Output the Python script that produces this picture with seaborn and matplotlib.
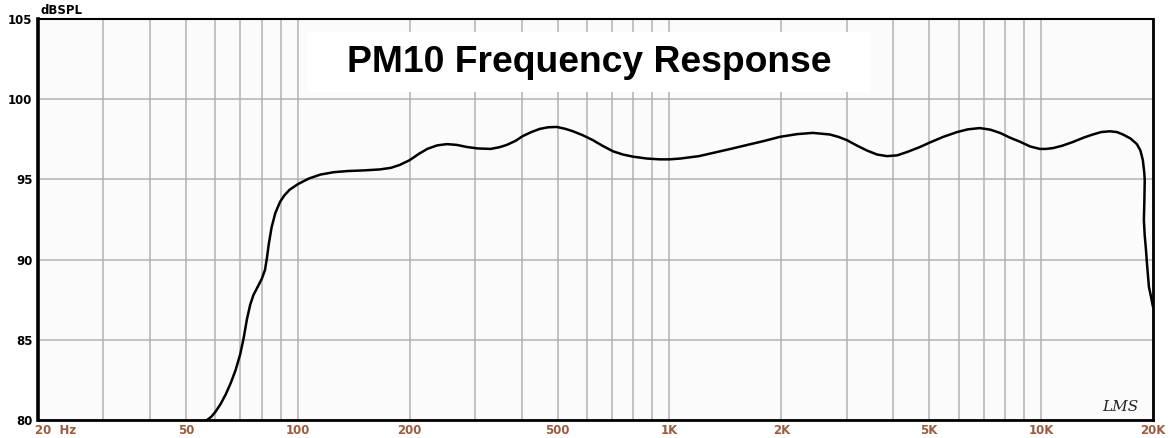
import matplotlib
matplotlib.use("Agg")
import matplotlib.pyplot as plt
from matplotlib.patches import Rectangle
import numpy as np
import pandas as pd
import seaborn as sns

# frequency response (Hz, dB SPL)
freq_hz = [57, 58.5, 60, 62, 64, 66, 68, 70, 71.5, 73, 74.5, 76, 78, 80, 81.6,
           82.6, 83.6, 85, 87, 89.6, 92, 95, 100, 107, 115, 125, 136, 150, 166,
           178, 188, 200, 212, 223, 237, 252, 268, 285, 305, 330, 348, 365, 385,
           403, 425, 448, 472, 498, 525, 550, 585, 622, 660, 705, 750, 797, 870,
           943, 1000, 1070, 1200, 1310, 1460, 1620, 1800, 1980, 2200, 2430,
           2700, 2850, 3000, 3200, 3400, 3620, 3850, 4100, 4350, 4700, 5020,
           5450, 5940, 6350, 6840, 7300, 7750, 8250, 8770, 9350, 9930, 10300,
           10760, 11400, 12170, 13000, 13780, 14500, 15310, 16000, 16600, 17400,
           18100, 18500, 18780, 18950, 19000, 18960, 18900, 19000, 19150, 19260,
           19500, 19750, 20000]
spl_db = [80.0, 80.2, 80.5, 81.0, 81.6, 82.3, 83.1, 84.1, 85.1, 86.3, 87.2,
          87.8, 88.3, 88.8, 89.35, 90.1, 91.0, 92.0, 92.9, 93.6, 94.0, 94.35,
          94.7, 95.05, 95.3, 95.45, 95.52, 95.56, 95.62, 95.72, 95.9, 96.2,
          96.6, 96.9, 97.12, 97.2, 97.15, 97.02, 96.93, 96.9, 97.0, 97.15, 97.4,
          97.7, 97.95, 98.15, 98.25, 98.27, 98.15, 98.0, 97.75, 97.45, 97.1,
          96.75, 96.55, 96.42, 96.3, 96.25, 96.25, 96.3, 96.45, 96.65, 96.9,
          97.15, 97.4, 97.65, 97.82, 97.9, 97.8, 97.65, 97.45, 97.1, 96.8,
          96.55, 96.45, 96.5, 96.7, 97.0, 97.3, 97.65, 97.95, 98.12, 98.2, 98.1,
          97.9, 97.6, 97.35, 97.05, 96.9, 96.9, 96.95, 97.1, 97.33, 97.6, 97.8,
          97.95, 98.0, 97.95, 97.8, 97.55, 97.2, 96.8, 96.2, 95.4, 94.96, 93.7,
          92.47, 91.5, 90.6, 89.8, 88.3, 87.7, 87.05]

x_ticks = [20, 50, 100, 200, 500, 1000, 2000, 5000, 10000, 20000]
x_labels = ["", "50", "100", "200", "500", "1K", "2K", "5K", "10K", "20K"]
y_ticks = [80, 85, 90, 95, 100, 105]
grid_freqs = [20, 30, 40, 50, 60, 70, 80, 90, 100, 200, 300, 400, 500, 600, 700,
              800, 900, 1000, 2000, 3000, 4000, 5000, 6000, 7000, 8000, 9000,
              10000, 20000]

df = pd.DataFrame({"freq": freq_hz, "spl": spl_db})

sns.set_style("white")
plt.rcParams["font.family"] = ["DejaVu Sans"]
plt.rcParams["text.color"] = "black"

fig = plt.figure(figsize=(11.7, 4.38), dpi=100)
ax = fig.add_axes([38 / 1170, 18 / 438, 1115 / 1170, 401 / 438])
ax.set_facecolor("#fbfbfb")

sns.lineplot(data=df, x="freq", y="spl", sort=False, estimator=None,
             color="black", linewidth=1.8, ax=ax, zorder=3)

ax.set_xscale("log")
ax.set_xlim(20, 20000)
ax.set_ylim(80, 105)
ax.set_xticks(grid_freqs, minor=True)
ax.set_xticks(x_ticks)
ax.set_xticklabels(x_labels)
ax.set_xticklabels([], minor=True)
ax.set_yticks(y_ticks)
ax.set_yticklabels([str(v) for v in y_ticks])
ax.set_xlabel("")
ax.set_ylabel("")
ax.set_axisbelow(True)
ax.grid(which="both", axis="x", color="#b2b2b2", linewidth=1.1)
ax.grid(which="major", axis="y", color="#b2b2b2", linewidth=1.1)
ax.tick_params(which="both", length=0)
ax.tick_params(axis="x", pad=3, labelsize=8.5, labelcolor="#9b5b3e")
ax.tick_params(axis="y", pad=4, labelsize=8.5, labelcolor="black")
for lab in ax.get_xticklabels() + ax.get_yticklabels():
    lab.set_fontweight("bold")

for side, lw in [("left", 2.6), ("bottom", 2.0), ("right", 2.0), ("top", 1.5)]:
    ax.spines[side].set_visible(True)
    ax.spines[side].set_color("black")
    ax.spines[side].set_linewidth(lw)

fig.text(35 / 1170, 1 - 424 / 438, "20  Hz", ha="left", va="top",
         fontsize=8.5, fontweight="bold", color="#9b5b3e")
fig.text(40 / 1170, 1 - 10 / 438, "dBSPL", ha="left", va="center",
         fontsize=8.5, fontweight="bold", color="black")

# title box
ax.add_patch(Rectangle((307 / 1170, 1 - 92 / 438), 563 / 1170, 60 / 438,
                       transform=fig.transFigure, facecolor="white",
                       edgecolor="none", zorder=1, clip_on=False))
fig.text(589 / 1170, 1 - 62 / 438, "PM10 Frequency Response", ha="center",
         va="center", fontsize=26.8, fontweight="bold", color="black",
         family="Liberation Sans", zorder=5)

fig.text(1120 / 1170, 1 - 407 / 438, "LMS", ha="center", va="center",
         fontsize=11, style="italic", family="DejaVu Serif", color="#222222")

fig.savefig("out.png", dpi=100, facecolor="white")
